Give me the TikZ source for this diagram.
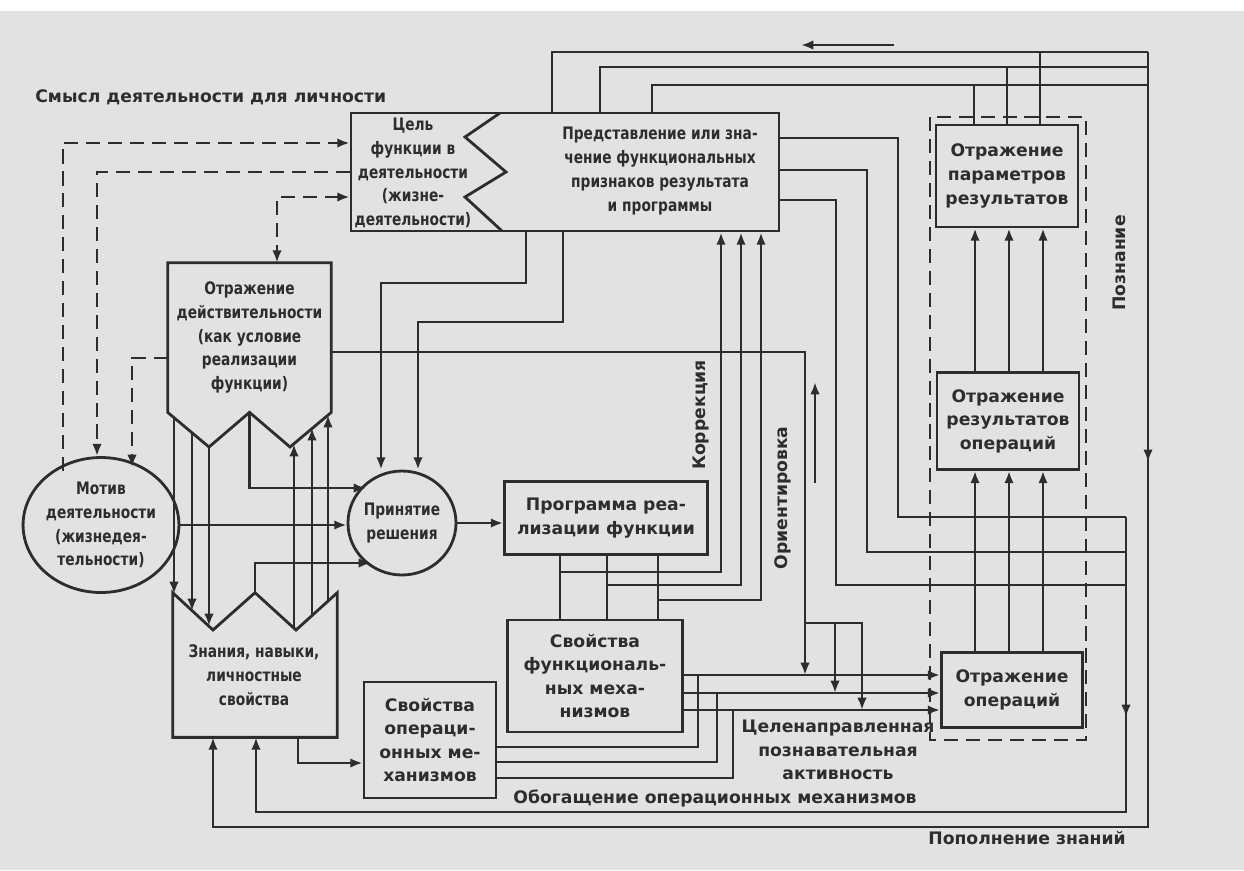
\documentclass[tikz,border=0pt]{standalone}
\usepackage{fontspec}
\setmainfont{DejaVu Sans}
\newfontfamily\narrowfont{DejaVu Sans}[FakeStretch=0.8]
\usepackage{tikz}
\usetikzlibrary{arrows.meta, shapes.geometric, decorations.markings}
\definecolor{ink}{RGB}{45,45,45}
\definecolor{paper}{RGB}{226,226,226}
\newcommand{\boxfont}{\fontsize{9.8}{13.4}\selectfont\bfseries}
\newcommand{\ovalfont}{\narrowfont\fontsize{9.8}{13.6}\selectfont\bfseries}
\tikzset{
>={Latex[length=7pt,width=5.4pt]}, % filled arrow heads
link/.style={draw=ink, line width=1.6pt}, % solid connector
dlink/.style={link, dash pattern=on 8pt off 4.5pt}, % dashed connector
box/.style={link, rectangle, inner sep=0pt, align=center, text=ink, font=\boxfont}, % plain blocks
oval/.style={link, ellipse, inner sep=0pt, align=center, text=ink, font=\ovalfont}, % motive and decision
txt/.style={inner sep=0pt, align=center, text=ink, font=\ovalfont}, % text inside drawn shapes
lbl/.style={inner sep=0pt, align=center, text=ink, font=\boxfont}, % free labels
mid arrow/.style={postaction={decorate, decoration={markings, mark=at position #1 with {\arrow{>}}}}},
}

\begin{document}
\begin{tikzpicture}[x=0.02cm, y=-0.02cm]
        \useasboundingbox (0,0) rectangle (1244,870);
        \fill[paper] (0,0) rectangle (1244,870);
        \fill[white] (0,0) rectangle (1244,11);

        % blocks
        \node[link, rectangle, minimum width=8.56cm, minimum height=2.36cm] (pred) at (565,172) {};
        \node[txt] (cel) at (413,173) {Цель\\функции в\\деятельности\\(жизне-\\деятельности)};
        \node[txt] (predtxt) at (660,171) {Представление или зна-\\чение функциональных\\признаков результата\\и программы};
        \node[txt, minimum width=3.26cm, minimum height=2.98cm] (otr) at (249.5,337.5) {Отражение\\действительности\\(как условие\\реализации\\функции)};
        \node[inner sep=0pt, minimum width=3.28cm, minimum height=2.88cm] (zn) at (255,665) {};
        \node[txt] (zntxt) at (254,675) {Знания, навыки,\\личностные\\свойства};
        \node[oval, minimum width=2.44cm, minimum height=2.7cm] (motiv) at (101,525) {Мотив\\деятельности\\(жизнедея-\\тельности)};
        \node[oval, minimum width=1.82cm, minimum height=2.08cm] (prin) at (402,523) {Принятие\\решения};
        \node[box, minimum width=4.06cm, minimum height=1.46cm] (prog) at (606,518) {Программа реа-\\лизации функции};
        \node[box, minimum width=3.5cm, minimum height=2.24cm] (svfunc) at (595,676) {Свойства\\функциональ-\\ных меха-\\низмов};
        \node[box, minimum width=2.64cm, minimum height=2.32cm] (svoper) at (430,740) {Свойства\\операци-\\онных ме-\\ханизмов};
        \node[box, minimum width=2.84cm, minimum height=2.04cm] (paramres) at (1007,176) {Отражение\\параметров\\результатов};
        \node[box, minimum width=2.84cm, minimum height=1.94cm] (resop) at (1008,421) {Отражение\\результатов\\операций};
        \node[box, minimum width=2.82cm, minimum height=1.5cm] (oper) at (1012,690) {Отражение\\операций};

        % outlines of the notched blocks
        \coordinate (otrl) at (209,447);
        \coordinate (otrr) at (290,447);
        \coordinate (znl) at (213,630);
        \coordinate (znr) at (296,630);
        \draw[link] (500,113) -- (465,137) -- (506,172) -- (465,197) -- (502,231);
        \draw[link] (otr.south west) -- (otr.north west) -- (otr.north east) -- (otr.south east)
                -- (otrr) -- (otr.south) -- (otrl) -- cycle;
        \draw[link] (zn.north west) -- (znl) -- (zn.north) -- (znr) -- (zn.north east)
                -- (zn.south east) -- (zn.south west) -- cycle;
        \draw[dlink] (930,117) rectangle (1086,740);

        % labels
        \node[lbl, anchor=west] (smysl) at (35,97) {Смысл деятельности для личности};
        \node[lbl, rotate=90] (korr) at (701,415) {Коррекция};
        \node[lbl, rotate=90] (orient) at (783,498) {Ориентировка};
        \node[lbl, rotate=90] (pozn) at (1119,263) {Познание};
        \node[lbl] (celen) at (838,750) {Целенаправленная\\познавательная\\активность};
        \node[lbl] (obog) at (715,798) {Обогащение операционных механизмов};
        \node[lbl] (popoln) at (1027,838) {Пополнение знаний};

        % ends on the notches and ellipses
        \coordinate (d1) at (174,417);   \coordinate (e1) at (174,594);
        \coordinate (d2) at (192,433);   \coordinate (e2) at (192,611);
        \coordinate (d3) at (otrl);      \coordinate (e3) at (209,626);
        \coordinate (u1) at (294,628);   \coordinate (v1) at (294,444);
        \coordinate (u2) at (312,616);   \coordinate (v2) at (312,428);
        \coordinate (u3) at (328,601);   \coordinate (v3) at (328,415);
        \coordinate (p1) at (366,488);
        \coordinate (p2) at (371,563);
        \coordinate (m1) at (63,471);
        \coordinate (m2) at (132,467);
        \coordinate (ret1) at (1126,517);
        \coordinate (ret2) at (1148,52);
        \coordinate (dirA) at (894,45);  \coordinate (dirB) at (801,45);
        \coordinate (upA) at (815,483);  \coordinate (upB) at (815,382);

        % dashed links
        \draw[dlink, ->] (m1) |- (pred.west |- 0,143);
        \draw[dlink, ->] (pred.west |- 0,172) -| (motiv.north -| 97,0);
        \draw[dlink, ->] (otr.west |- 0,358) -| (m2);
        \draw[dlink, <->] (pred.west |- 0,197) -| (otr.north -| 277,0);

        % left part
        \draw[link, ->] (d1) -- (e1);
        \draw[link, ->] (d2) -- (e2);
        \draw[link, ->] (d3) -- (e3);
        \draw[link, ->] (u1) -- (v1);
        \draw[link, ->] (u2) -- (v2);
        \draw[link, ->] (u3) -- (v3);
        \draw[link, ->] (otr.south) |- (p1);
        \draw[link, ->] (zn.north) |- (p2);
        \draw[link, ->] (motiv.east) -- (motiv.east -| prin.west);
        \draw[link, ->] (prin.east) -- (prin.east -| prog.west);
        \draw[link, ->] (pred.south -| 526,0) |- (381,283) -- (prin.north -| 381,0);
        \draw[link, ->] (pred.south -| 563,0) |- (418,322) -- (prin.north -| 418,0);
        \draw[link, ->] (zn.south -| 298,0) |- (svoper.west |- 0,763);

        % correction and orientation
        \foreach \x/\y/\z in {560/572/721, 607/585/741, 658/600/761} {
                \draw[link] (prog.south -| \x,0) -- (svfunc.north -| \x,0);
                \draw[link, ->] (\x,\y) -| (pred.south -| \z,0);
        }
        \draw[link, ->] (otr.east |- 0,352) -| (805,675);
        \draw[link, ->] (805,623) -| (835,693);
        \draw[link, ->] (835,623) -| (862,710);
        \draw[link, ->] (upA) -- (upB);
        \foreach \y in {675,693,710}
                \draw[link, ->] (svfunc.east |- 0,\y) -- (oper.west |- 0,\y);
        \foreach \x/\y/\z in {698/675/747, 717/693/762, 733/710/778}
                \draw[link] (\x,\y) |- (svoper.east |- 0,\z);

        % right part
        \foreach \x in {975,1009,1043} {
                \draw[link, ->] (resop.north -| \x,0) -- (paramres.south -| \x,0);
                \draw[link, ->] (oper.north -| \x,0) -- (resop.south -| \x,0);
        }
        \draw[link] (pred.north -| 552,0) |- (ret2);
        \draw[link] (pred.north -| 600,0) |- (1148,67);
        \draw[link] (pred.north -| 652,0) |- (1148,85);
        \draw[link] (paramres.north -| 1040,0) -- (1040,52);
        \draw[link] (paramres.north -| 1007,0) -- (1007,67);
        \draw[link] (paramres.north -| 974,0) -- (974,85);
        \draw[link, ->] (dirA) -- (dirB);
        \draw[link, ->, mid arrow=8.2cm] (ret2) -- (1148,827) -| (zn.south -| 213,0);
        \draw[link] (pred.east |- 0,138) -| (898,517) -- (ret1);
        \draw[link] (pred.east |- 0,170) -| (867,552) -- (1126,552);
        \draw[link] (pred.east |- 0,200) -| (836,585) -- (1126,585);
        \draw[link, ->, mid arrow=4cm] (ret1) -- (1126,812) -| (zn.south -| 256,0);
\end{tikzpicture}
\end{document}
